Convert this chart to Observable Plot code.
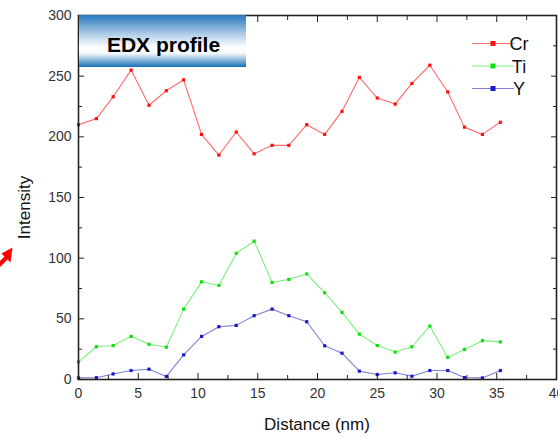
<!DOCTYPE html>
<html>
<head>
<meta charset="utf-8">
<script src="https://cdn.jsdelivr.net/npm/d3@7"></script>
<script src="https://cdn.jsdelivr.net/npm/@observablehq/plot@0.6"></script>
<style>
  html, body { margin: 0; padding: 0; background: #fff; overflow: hidden; }
  #chart svg { display: block; }
</style>
</head>
<body>
<div id="chart"></div>
<script>
// ---- data ----
const distance = [0, 1.5, 2.9, 4.4, 5.9, 7.35, 8.8, 10.3, 11.75, 13.2, 14.7, 16.2, 17.6,
                  19.1, 20.6, 22.05, 23.5, 25.0, 26.5, 27.9, 29.4, 30.9, 32.3, 33.8, 35.3];
const cr = [210, 215, 233, 255, 226, 238, 247, 202, 185, 204, 186, 193, 193,
            210, 202, 221, 249, 232, 227, 244, 259, 237, 208, 202, 212];
const ti = [14.5, 27, 28, 35.5, 29, 26.6, 58, 80.5, 77.5, 104, 114, 80, 82.5,
            87, 71.5, 55.3, 37.4, 28, 22.6, 27, 44, 18.2, 24.8, 32, 31];
const yy = [1.3, 1.5, 4.6, 7.4, 8.5, 2.5, 20.3, 35.5, 43.5, 44.6, 52.6, 58, 52.6,
            47.6, 27.8, 21.7, 6.9, 4.1, 5.5, 2.7, 7.4, 7.4, 1.6, 1.3, 7.4];

const seriesNames = ["Cr", "Ti", "Y"];
const seriesValues = [cr, ti, yy];
const lineColors = ["#ff6a6a", "#7cf07c", "#8080d8"];
const dotColors = ["#ff1010", "#10e010", "#1818d0"];

const xMajor = [0, 5, 10, 15, 20, 25, 30, 35, 40];
const xMinor = [2.5, 7.5, 12.5, 17.5, 22.5, 27.5, 32.5, 37.5];
const yMajor = [0, 50, 100, 150, 200, 250, 300];
const yMinor = [25, 75, 125, 175, 225, 275];

const titleText = "EDX profile";
const xLabel = "Distance (nm)";
const yLabel = "Intensity";

const rows = seriesNames.map((name, k) =>
  distance.map((d, i) => ({x: d, v: seriesValues[k][i], s: name})));

const blank = () => "";
const axisColor = "#222";

const marks = [];
rows.forEach((data, k) => {
  marks.push(Plot.line(data, {x: "x", y: "v", stroke: lineColors[k], strokeWidth: 1.1}));
  marks.push(Plot.dot(data, {x: "x", y: "v", symbol: "square", r: 1.8, fill: dotColors[k], stroke: "none"}));
});

marks.push(
  // inward major/minor ticks, bottom
  Plot.axisX({ticks: xMajor, tickSize: 6, dy: -6, tickFormat: blank, label: null, stroke: axisColor}),
  Plot.axisX({ticks: xMinor, tickSize: 4, dy: -4, tickFormat: blank, label: null, stroke: axisColor}),
  // top
  Plot.axisX({anchor: "top", ticks: xMajor, tickSize: 6, dy: 6, tickFormat: blank, label: null, stroke: axisColor}),
  Plot.axisX({anchor: "top", ticks: xMinor, tickSize: 4, dy: 4, tickFormat: blank, label: null, stroke: axisColor}),
  // left
  Plot.axisY({ticks: yMajor, tickSize: 6, dx: 6, tickFormat: blank, label: null, stroke: axisColor}),
  Plot.axisY({ticks: yMinor, tickSize: 4, dx: 4, tickFormat: blank, label: null, stroke: axisColor}),
  // right
  Plot.axisY({anchor: "right", ticks: yMajor, tickSize: 6, dx: -6, tickFormat: blank, label: null, stroke: axisColor}),
  Plot.axisY({anchor: "right", ticks: yMinor, tickSize: 4, dx: -4, tickFormat: blank, label: null, stroke: axisColor}),
  // tick labels
  Plot.axisX({ticks: xMajor, tickSize: 0, tickPadding: 9, label: null, fill: "#333"}),
  Plot.axisY({ticks: yMajor, tickSize: 0, tickPadding: 7, label: null, fill: "#333"}),
  Plot.frame({stroke: axisColor, strokeWidth: 1.6})
);

const svg = Plot.plot({
  width: 558,
  height: 438,
  marginLeft: 78,
  marginRight: 2,
  marginTop: 15,
  marginBottom: 59,
  x: {domain: [0, 40]},
  y: {domain: [0, 300]},
  style: {fontFamily: "'Liberation Sans', Arial, sans-serif", fontSize: "14px", background: "#fff", overflow: "visible"},
  marks
});

document.getElementById("chart").appendChild(svg);

// ---- decorations: title box, legend, axis labels, arrow ----
const s = d3.select(svg);
const font = "'Liberation Sans', Arial, sans-serif";

const defs = s.append("defs");
const grad = defs.append("linearGradient").attr("id", "titleGrad")
  .attr("x1", 0).attr("y1", 0).attr("x2", 0).attr("y2", 1);
[[0, "#2677bd"], [0.35, "#a9c9e6"], [0.62, "#ffffff"], [0.74, "#f2f7fb"], [1, "#1670b6"]]
  .forEach(([o, c]) => grad.append("stop").attr("offset", o).attr("stop-color", c));

s.append("rect").attr("x", 79).attr("y", 15).attr("width", 167).attr("height", 52)
  .attr("fill", "url(#titleGrad)");
s.append("text").attr("x", 163.5).attr("y", 51.5).attr("text-anchor", "middle")
  .attr("font-family", font).attr("font-weight", "bold").attr("font-size", 21)
  .attr("fill", "#000").text(titleText);

// legend
const legendY = [43.5, 66, 88.5];
seriesNames.forEach((name, k) => {
  const g = s.append("g");
  g.append("line").attr("x1", 472).attr("x2", 514).attr("y1", legendY[k]).attr("y2", legendY[k])
    .attr("stroke", lineColors[k]).attr("stroke-width", 1.1);
  g.append("rect").attr("x", 490.5).attr("y", legendY[k] - 2.5).attr("width", 5).attr("height", 5)
    .attr("fill", dotColors[k]);
  g.append("text").attr("x", 519).attr("y", legendY[k] + 6.5)
    .attr("font-family", font).attr("font-size", 18).attr("fill", "#111").text(name);
});

// axis labels
s.append("text").attr("x", 317).attr("y", 429.5).attr("text-anchor", "middle")
  .attr("font-family", font).attr("font-size", 17).attr("fill", "#111").text(xLabel);
s.append("text").attr("transform", "translate(29.5,207.5) rotate(-90)").attr("text-anchor", "middle")
  .attr("font-family", font).attr("font-size", 17).attr("fill", "#111").text(yLabel);

// red annotation arrow at the left edge
s.append("path")
  .attr("d", "M12.5,247.5 L1.5,253.5 L4.5,256.5 L-4,265 L-1,268 L7.5,259.5 L10.5,262.5 Z")
  .attr("fill", "#ff0000");
</script>
</body>
</html>
